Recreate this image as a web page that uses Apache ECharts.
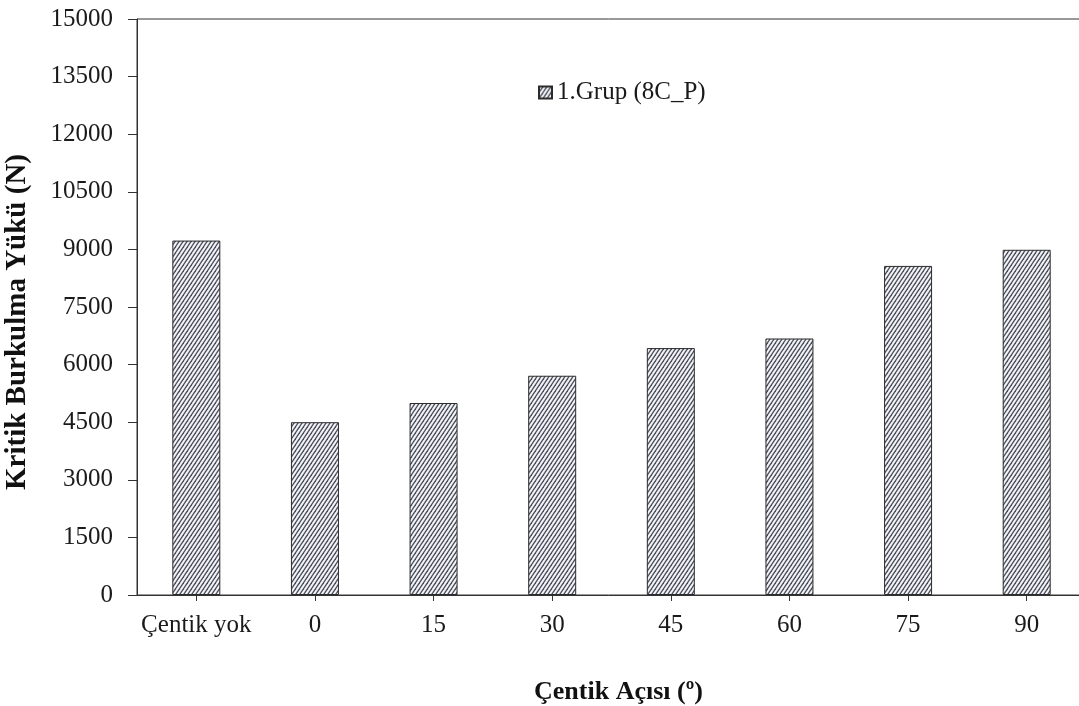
<!DOCTYPE html>
<html>
<head>
<meta charset="utf-8">
<script src="https://cdn.jsdelivr.net/npm/echarts@6/dist/echarts.min.js"></script>
<style>
  html, body { margin: 0; padding: 0; background: #ffffff; }
  #chart { width: 1079px; height: 706px; }
</style>
</head>
<body>
<div id="chart"></div>
<script>
// Notch angle categories and critical buckling load values (N)
const categories = ['Çentik yok', '0', '15', '30', '45', '60', '75', '90'];
const bucklingLoad = [9230, 4500, 5000, 5710, 6430, 6680, 8570, 8990];
const seriesName = '1.Grup (8C_P)';
const yTicks = { min: 0, max: 15000, interval: 1500 };

// Diagonal hatch fill for the bars
function makeHatch() {
  const w = 4, h = 6;
  const c = document.createElement('canvas');
  c.width = w; c.height = h;
  const g = c.getContext('2d');
  g.fillStyle = '#f3f5f9';
  g.fillRect(0, 0, w, h);
  g.strokeStyle = '#4b4d58';
  g.lineWidth = 1.3;
  for (const dx of [-w, 0, w]) {
    g.beginPath();
    g.moveTo(dx - w, 2 * h);
    g.lineTo(dx + 2 * w, -h);
    g.stroke();
  }
  return c;
}
const hatch = { image: makeHatch(), repeat: 'repeat' };

const serif = '"Liberation Serif", "Times New Roman", serif';
const chart = echarts.init(document.getElementById('chart'));
chart.setOption({
  animation: false,
  backgroundColor: '#ffffff',
  grid: {
    left: 137, top: 19, width: 949, height: 576,
    outerBoundsMode: 'none',
    containLabel: false,
    show: true, borderColor: '#333333', borderWidth: 1, backgroundColor: 'transparent'
  },
  legend: {
    left: 533, top: 75,
    itemWidth: 13, itemHeight: 12, itemGap: 8,
    textStyle: { fontFamily: serif, fontSize: 25, color: '#1a1a1a' },
    data: [{ name: seriesName, icon: 'rect' }]
  },
  xAxis: {
    type: 'category',
    data: categories,
    axisLine: { lineStyle: { color: '#333333', width: 1 } },
    axisTick: { show: true, alignWithLabel: true, length: 6, lineStyle: { color: '#333333' } },
    axisLabel: { interval: 0, fontFamily: serif, fontSize: 25, color: '#1a1a1a', margin: 18 },
    name: 'Çentik Açısı (º)',
    nameLocation: 'middle',
    nameGap: 84,
    nameTextStyle: { fontFamily: serif, fontSize: 26, fontWeight: 'bold', color: '#111111', padding: [0, 0, 0, 14] }
  },
  yAxis: {
    type: 'value',
    min: yTicks.min, max: yTicks.max, interval: yTicks.interval,
    axisLine: { show: true, lineStyle: { color: '#333333', width: 1 } },
    axisTick: { show: true, length: 9, lineStyle: { color: '#333333' } },
    splitLine: { show: false },
    axisLabel: {
      fontFamily: serif, fontSize: 25, color: '#1a1a1a', margin: 24,
      formatter: v => String(v)
    }
  },
  graphic: [{
    type: 'text',
    x: 18, y: 322,
    rotation: Math.PI / 2,
    style: {
      text: 'Kritik Burkulma Yükü (N)',
      font: 'bold 29px ' + serif,
      fill: '#111111',
      align: 'center',
      verticalAlign: 'middle'
    }
  }],
  series: [{
    name: seriesName,
    type: 'bar',
    data: bucklingLoad,
    barWidth: 48,
    itemStyle: { color: hatch, borderColor: '#2b2b2b', borderWidth: 1 }
  }]
});
</script>
</body>
</html>
